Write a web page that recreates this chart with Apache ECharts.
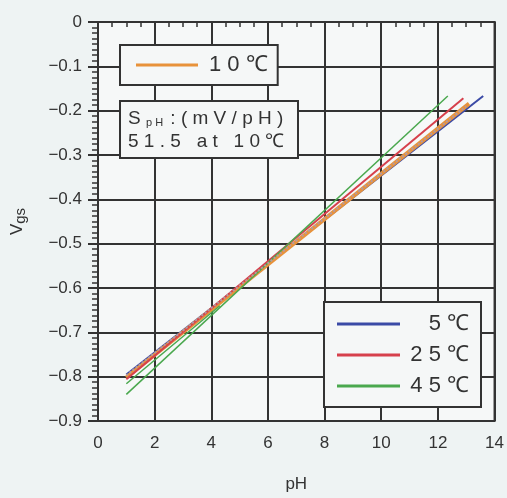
<!DOCTYPE html>
<html>
<head>
<meta charset="utf-8">
<script src="https://cdn.jsdelivr.net/npm/echarts@6/dist/echarts.min.js"></script>
<style>
  html, body { margin: 0; padding: 0; background: #eef3f3; }
  #chart { width: 507px; height: 498px; }
</style>
</head>
<body>
<div id="chart"></div>
<script>
// pH vs Vgs, straight fitted lines per temperature (endpoints)
const line5 = [[1, -0.795], [13.6, -0.167]]
const line10 = [[1, -0.802], [13.1, -0.184]]
const line25 = [[1, -0.806], [12.9, -0.172]]
const line45 = [[1, -0.84], [12.35, -0.167]]
const line45short = [[1, -0.816], [4.3, -0.64]]
const measured = [[1, -0.797], [13, -0.19]]

const xTicks = [0, 2, 4, 6, 8, 10, 12, 14]
const yTicks = [0, -0.1, -0.2, -0.3, -0.4, -0.5, -0.6, -0.7, -0.8, -0.9]

const font = 'Liberation Sans'
const chart = echarts.init(document.getElementById('chart'))

function fmtY (v) {
  if (Math.abs(v) < 1e-9) return '0'
  return '\u2212' + Math.abs(v).toFixed(1)
}

chart.setOption({
  backgroundColor: '#eef3f3',
  animation: false,
  title: {
    text: '{s|S }{sub|p H}{s| : ( m V / p H )}\n{s|5 1 . 5   a t   1 0 ℃}',
    left: 120,
    top: 99,
    backgroundColor: '#f5f7f7',
    borderColor: '#333',
    borderWidth: 2,
    padding: [8, 14, 7, 8],
    textStyle: {
      rich: {
        s: { fontFamily: font, fontSize: 19, fontWeight: 'normal', color: '#333', lineHeight: 23 },
        sub: { fontFamily: font, fontSize: 11, fontWeight: 'normal', color: '#333', padding: [8, 2, 0, 0] }
      }
    }
  },
  legend: [
    {
      data: ['10℃'],
      left: 120,
      top: 45,
      orient: 'vertical',
      backgroundColor: '#f5f7f7',
      borderColor: '#333',
      borderWidth: 2,
      padding: [9, 10, 9, 16],
      itemWidth: 62,
      itemHeight: 3,
      itemGap: 8,
      icon: 'rect',
      formatter: () => '1 0 ℃',
      textStyle: { fontFamily: font, fontSize: 22, color: '#333', padding: [0, 0, 0, 6] }
    },
    {
      data: ['5℃', '25℃', '45℃'],
      left: 324,
      top: 302,
      orient: 'vertical',
      backgroundColor: '#f5f7f7',
      borderColor: '#333',
      borderWidth: 2,
      padding: [11, 12, 10, 13],
      itemWidth: 63,
      itemHeight: 3,
      itemGap: 9,
      icon: 'rect',
      formatter: (name) => '{t|' + name.replace('℃', '').split('').join(' ') + ' ℃}',
      textStyle: {
        rich: { t: { fontFamily: font, fontSize: 22, color: '#333', width: 64, align: 'right' } }
      }
    }
  ],
  grid: {
    left: 98,
    right: 5,
    top: 22,
    bottom: 74,
    show: true,
    backgroundColor: '#f6f8f8',
    borderColor: '#333',
    borderWidth: 2
  },
  xAxis: {
    type: 'value',
    min: 0,
    max: 14,
    interval: 2,
    name: 'pH',
    nameLocation: 'middle',
    nameGap: 55,
    nameTextStyle: { fontFamily: font, fontSize: 17, color: '#333' },
    axisLine: { show: true, lineStyle: { color: '#333', width: 2 } },
    axisTick: { show: true, length: 10, lineStyle: { color: '#333', width: 2 } },
    minorTick: { show: true, splitNumber: 4, length: 5, lineStyle: { color: '#333', width: 1.5 } },
    axisLabel: {
      margin: 14,
      fontFamily: font,
      fontSize: 17,
      color: '#333',
      formatter: (v) => xTicks.includes(v) ? String(v) : ''
    },
    splitLine: { show: true, lineStyle: { color: '#333', width: 2 } }
  },
  yAxis: {
    type: 'value',
    min: -0.9,
    max: 0,
    interval: 0.1,
    name: '{v|V}{s|gs}',
    nameLocation: 'middle',
    nameRotate: 90,
    nameGap: 70,
    nameTextStyle: {
      rich: {
        v: { fontFamily: font, fontSize: 17, color: '#333' },
        s: { fontFamily: font, fontSize: 15, color: '#333', padding: [6, 0, 0, 0] }
      }
    },
    axisLine: { show: true, lineStyle: { color: '#333', width: 2 } },
    axisTick: { show: true, length: 10, lineStyle: { color: '#333', width: 2 } },
    minorTick: { show: true, splitNumber: 8, length: 6, lineStyle: { color: '#333', width: 1.5 } },
    axisLabel: {
      margin: 16,
      fontFamily: font,
      fontSize: 17,
      color: '#333',
      formatter: (v) => yTicks.some(t => Math.abs(t - v) < 1e-6) ? fmtY(v) : ''
    },
    splitLine: { show: true, lineStyle: { color: '#333', width: 2 } }
  },
  series: [
    {
      name: '5℃', type: 'line', data: line5, symbol: 'none',
      lineStyle: { color: '#3a4aa6', width: 2 }, itemStyle: { color: '#3a4aa6' }
    },
    {
      name: '10℃', type: 'line', data: line10, symbol: 'none',
      lineStyle: { color: '#e8923a', width: 4 }, itemStyle: { color: '#e8923a' }
    },
    {
      name: '25℃', type: 'line', data: line25, symbol: 'none',
      lineStyle: { color: '#d6404c', width: 2 }, itemStyle: { color: '#d6404c' }
    },
    {
      name: '45℃', type: 'line', data: line45, symbol: 'none',
      lineStyle: { color: '#4aa84e', width: 1.5 }, itemStyle: { color: '#4aa84e' }
    },
    {
      name: '45℃ data', type: 'line', data: line45short, symbol: 'none',
      lineStyle: { color: '#4aa84e', width: 1.5 }
    },
    {
      name: 'measured', type: 'line', data: measured, symbol: 'none',
      lineStyle: { color: '#b39aa2', width: 2, type: [2, 2] }
    }
  ]
})
</script>
</body>
</html>
